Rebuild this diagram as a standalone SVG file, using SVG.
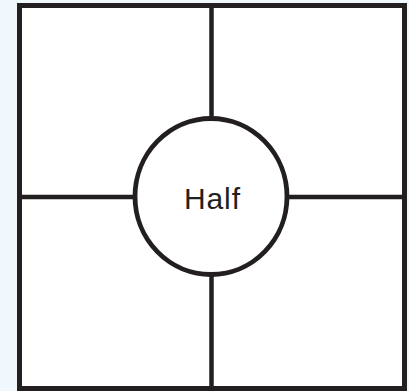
<svg xmlns="http://www.w3.org/2000/svg" width="409" height="391" viewBox="0 0 409 391">
<style>
.ln{stroke:#231f20;stroke-width:4.5;fill:none}
.lbl{font-family:"Liberation Sans",Arial,sans-serif;font-size:30px;fill:#231f20}
</style>
<rect x="0" y="0" width="409" height="391" fill="#f0f7fd"/>
<g id="frame">
<rect x="19.5" y="5.5" width="385" height="383" fill="#ffffff" stroke="#231f20" stroke-width="5"/>
</g>
<g id="connectors">
<line class="ln" x1="211.5" y1="5" x2="211.5" y2="118"/>
<line class="ln" x1="211.5" y1="275" x2="211.5" y2="389"/>
<line class="ln" x1="19" y1="197" x2="135" y2="197"/>
<line class="ln" x1="287" y1="197" x2="405" y2="197"/>
</g>
<g id="half">
<ellipse cx="211" cy="196.5" rx="76" ry="78" fill="#ffffff" stroke="#231f20" stroke-width="4.8"/>
<text class="lbl" x="212" y="209" text-anchor="middle" textLength="56">Half</text>
</g>
</svg>
